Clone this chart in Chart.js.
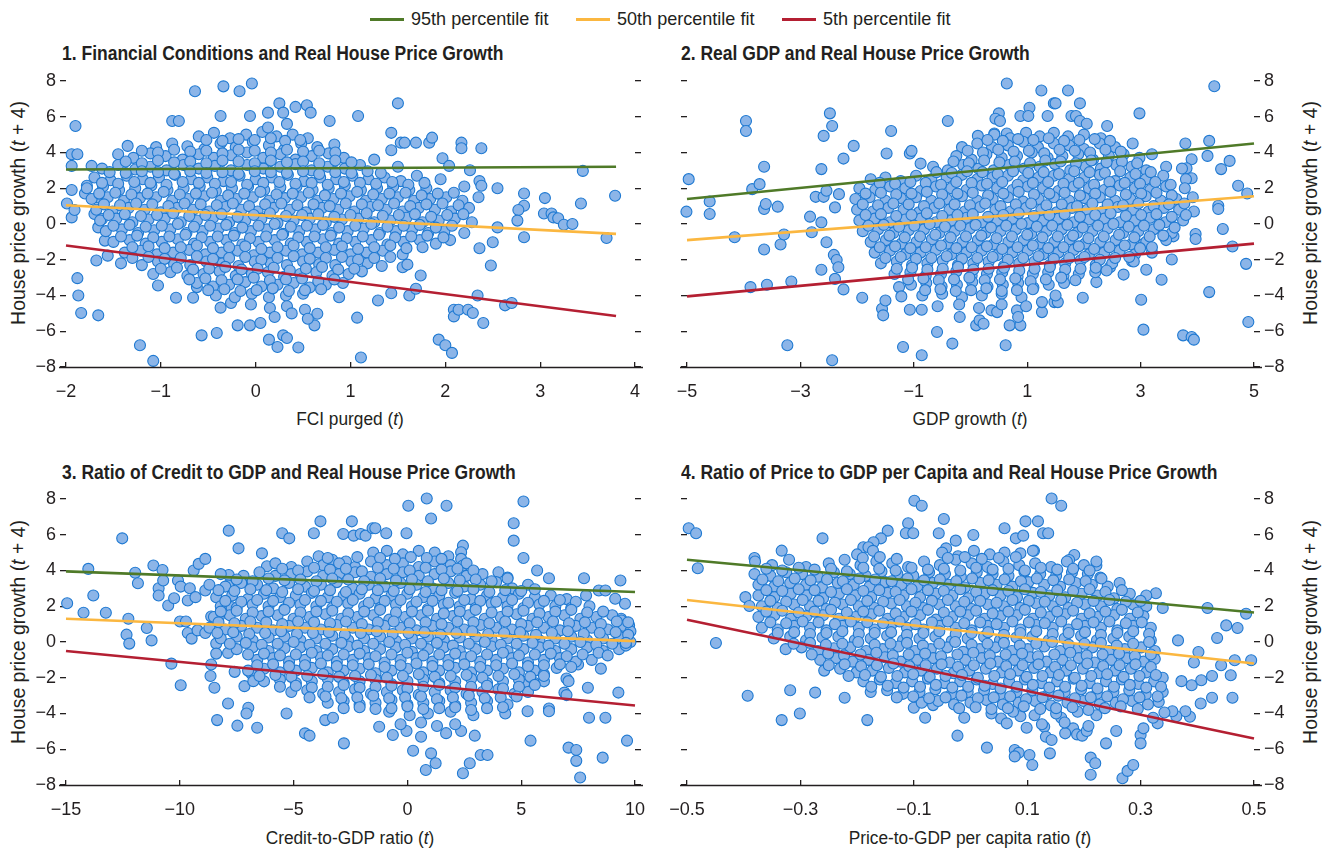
<!DOCTYPE html>
<html>
<head>
<meta charset="utf-8">
<script src="https://cdn.jsdelivr.net/npm/chart.js@4.4.1/dist/chart.umd.min.js"></script>
<style>
  body { margin: 0; background: #fff; }
  #page { position: relative; width: 1328px; height: 852px; background: #fff; overflow: hidden;
          font-family: "Liberation Sans", Arial, sans-serif; color: #231f20; }
  .abs { position: absolute; white-space: nowrap; line-height: 22px; }
  .ttl { font-weight: bold; font-size: 20px; transform-origin: 0 50%; transform: scaleX(0.875); }
  .axt { font-size: 18px; transform: translateX(-50%) scaleX(0.96); }
  .ylab { font-size: 20px; transform: translate(-50%, -50%) rotate(-90deg) scaleX(0.97); }
  .leg { font-size: 19px; transform-origin: 0 50%; transform: scaleX(0.95); }
  .sw { position: absolute; height: 3px; width: 34px; }
  .panel { position: absolute; width: 664px; height: 400px; }
</style>
</head>
<body>
<div id="page">
  <div class="sw" style="left:370px;top:18px;background:#4f7a28"></div>
  <div class="abs leg" style="left:411px;top:8px">95th percentile fit</div>
  <div class="sw" style="left:576px;top:18px;background:#fbb740"></div>
  <div class="abs leg" style="left:617px;top:8px">50th percentile fit</div>
  <div class="sw" style="left:782px;top:18px;background:#b41f32"></div>
  <div class="abs leg" style="left:823px;top:8px">5th percentile fit</div>

  <div class="abs ttl" style="left:62px;top:42px">1. Financial Conditions and Real House Price Growth</div>
  <div class="abs ttl" style="left:681px;top:42px">2. Real GDP and Real House Price Growth</div>
  <div class="abs ttl" style="left:62px;top:461px">3. Ratio of Credit to GDP and Real House Price Growth</div>
  <div class="abs ttl" style="left:681px;top:461px">4. Ratio of Price to GDP per Capita and Real House Price Growth</div>

  <div class="abs axt" style="left:350px;top:408px">FCI purged (<i>t</i>)</div>
  <div class="abs axt" style="left:970px;top:408px">GDP growth (<i>t</i>)</div>
  <div class="abs axt" style="left:350px;top:827px">Credit-to-GDP ratio (<i>t</i>)</div>
  <div class="abs axt" style="left:970px;top:827px">Price-to-GDP per capita ratio (<i>t</i>)</div>

  <div class="abs ylab" style="left:18px;top:213px">House price growth (<i>t</i> + 4)</div>
  <div class="abs ylab" style="left:1310px;top:213px">House price growth (<i>t</i> + 4)</div>
  <div class="abs ylab" style="left:18px;top:632px">House price growth (<i>t</i> + 4)</div>
  <div class="abs ylab" style="left:1310px;top:632px">House price growth (<i>t</i> + 4)</div>

  <div class="panel" style="left:0;top:60px"><canvas id="p1" width="664" height="400"></canvas></div>
  <div class="panel" style="left:664px;top:60px"><canvas id="p2" width="664" height="400"></canvas></div>
  <div class="panel" style="left:0;top:478px"><canvas id="p3" width="664" height="400"></canvas></div>
  <div class="panel" style="left:664px;top:478px"><canvas id="p4" width="664" height="400"></canvas></div>
</div>
<script>
// y axis is shared by all four panels
const yTicks = [-8, -6, -4, -2, 0, 2, 4, 6, 8];

// ---- panel 1: FCI purged ----
const fciFit95 = [[-2, 3.05], [3.8, 3.2]];
const fciFit50 = [[-2, 1.05], [3.8, -0.55]];
const fciFit5 = [[-2, -1.2], [3.8, -5.15]];
const fciSparse = [[-0.64,7.43],[-0.34,7.7],[-0.17,7.43],[-0.04,7.86],[1.08,6.04],[1.5,6.75],[-1.9,5.48],[-0.88,5.76],[-0.81,5.76],[-0.37,6.04],[-0.06,6.04],[0.25,6.75],[0.42,6.55],[0.54,6.64],[0.58,6.23],[0.13,6.23],[0.29,6.23],[0.33,5.6],[0.78,5.76],[1.43,5.1],[1.43,4.13],[1.53,4.55],[1.57,4.55],[1.69,4.55],[1.83,4.55],[1.86,4.83],[2.17,4.55],[2.17,4.24],[2.38,4.24],[-1.94,3.9],[-1.88,3.9],[-1.94,3.25],[-1.73,3.25],[-1.35,4.37],[1.97,3.68],[2.04,3.25],[2.26,3.01],[3.45,2.97],[2.55,2.0],[2.36,2.4],[2.38,2.14],[2.83,1.71],[2.83,1.02],[3.05,1.45],[3.43,1.15],[3.79,1.58],[2.77,0.78],[2.76,0.19],[3.04,0.59],[3.12,0.59],[3.14,0.37],[3.19,0.32],[3.25,-0.04],[3.34,0],[3.7,-0.78],[2.83,-0.74],[2.55,-0.19],[2.5,-1.02],[2.36,-1.36],[2.48,-2.32],[2.34,-4.0],[2.63,-4.55],[2.7,-4.42],[2.09,-4.8],[2.09,-5.17],[2.14,-4.8],[2.24,-4.8],[2.29,-4.98],[2.4,-5.54],[1.93,-6.47],[2.0,-6.78],[2.07,-7.21],[1.11,-7.47],[1.07,-5.24],[1.29,-4.28],[1.43,-3.87],[1.62,-4.0],[1.69,-3.62],[1.74,-2.88],[1.55,-2.42],[1.6,-2.27],[-1.08,-7.66],[-1.22,-6.78],[-0.57,-6.23],[-0.41,-6.1],[-0.19,-5.67],[-0.06,-5.67],[0.05,-5.54],[0.14,-6.47],[0.23,-6.88],[0.29,-6.23],[0.33,-6.38],[0.45,-6.91],[0.62,-5.67],[0.65,-5.02],[-1.84,-4.98],[-1.66,-5.11],[-1.88,-3.03],[-1.87,-4.0],[-1.68,-2.04],[-1.56,-1.77],[-1.59,-0.93],[-0.84,-4.13],[-0.66,-4.13],[-0.62,-3.53],[-1.03,-3.44],[-0.37,-4.68],[-0.26,-4.42],[-1.99,1.15],[-1.94,0.37],[-1.91,0.78],[-1.94,1.9],[-1.8,1.71],[-1.78,2.14],[-1.7,0.56],[-1.67,1.49],[-1.66,-0.19],[-1.62,0.28]];
const fciDense = [
[-0.6,4.9],[-0.44,5.1],[-0.27,4.8],[-0.1,5.0],[0.07,5.15],[0.22,4.9],[0.39,5.0],[0.55,4.8],[0.13,5.4],
[-1.05,4.3],[-0.88,4.5],[-0.72,4.35],[-0.54,4.2],[-0.37,4.5],[-0.21,4.3],[-0.03,4.6],[0.14,4.4],[0.3,4.15],[0.48,4.5],[0.65,4.3],[0.83,4.45],
[-1.45,3.9],[-1.29,3.7],[-1.11,3.95],[-0.95,3.8],[-0.77,3.6],[-0.6,3.9],[-0.44,3.7],[-0.26,3.85],[-0.09,4.0],[0.08,3.7],[0.26,3.9],[0.42,3.6],[0.59,3.8],[0.77,3.95],[0.93,3.7],[1.25,3.6],
[-1.62,3.1],[-1.45,3.3],[-1.27,3.05],[-1.11,3.2],[-0.94,3.0],[-0.76,3.3],[-0.6,3.1],[-0.43,3.25],[-0.26,3.0],[-0.09,3.3],[0.08,3.1],[0.26,3.2],[0.42,3.35],[0.59,3.0],[0.76,3.2],[0.94,3.1],[1.1,3.3],[1.5,3.2],
[-1.7,2.6],[-1.53,2.45],[-1.36,2.7],[-1.19,2.5],[-1.02,2.6],[-0.85,2.75],[-0.68,2.5],[-0.51,2.6],[-0.34,2.4],[-0.17,2.7],[0,2.5],[0.17,2.6],[0.34,2.75],[0.51,2.4],[0.68,2.6],[0.85,2.5],[1.02,2.7],[1.19,2.5],[1.36,2.6],[1.53,2.4],[1.7,2.7],[1.95,2.5],
[-1.78,2.0],[-1.61,2.1],[-1.44,1.9],[-1.27,2.0],[-1.1,2.15],[-0.93,1.9],[-0.76,2.0],[-0.59,2.1],[-0.42,1.85],[-0.25,2.0],[-0.08,2.1],[0.09,1.9],[0.26,2.05],[0.43,2.1],[0.6,1.9],[0.77,2.0],[0.94,2.15],[1.11,1.9],[1.28,2.0],[1.45,2.1],[1.62,1.9],[1.8,2.0],[2.2,2.1],
[-1.73,1.4],[-1.56,1.5],[-1.39,1.3],[-1.22,1.45],[-1.05,1.5],[-0.88,1.3],[-0.71,1.4],[-0.54,1.55],[-0.37,1.3],[-0.2,1.4],[-0.03,1.5],[0.14,1.3],[0.31,1.45],[0.48,1.5],[0.65,1.3],[0.82,1.4],[0.99,1.55],[1.16,1.3],[1.33,1.4],[1.5,1.5],[1.67,1.3],[1.84,1.4],[2.01,1.5],[2.18,1.3],[2.35,1.5],
[-1.68,0.8],[-1.51,0.7],[-1.34,0.9],[-1.17,0.8],[-1.0,0.65],[-0.83,0.9],[-0.66,0.8],[-0.49,0.7],[-0.32,0.95],[-0.15,0.8],[0.02,0.7],[0.19,0.9],[0.36,0.8],[0.53,0.65],[0.7,0.9],[0.87,0.8],[1.04,0.7],[1.21,0.95],[1.38,0.8],[1.55,0.7],[1.72,0.9],[1.89,0.8],[2.06,0.7],[2.25,0.9],
[-1.64,0.2],[-1.47,0.3],[-1.3,0.1],[-1.13,0.25],[-0.96,0.3],[-0.79,0.1],[-0.62,0.2],[-0.45,0.35],[-0.28,0.1],[-0.11,0.2],[0.06,0.3],[0.23,0.05],[0.4,0.2],[0.57,0.3],[0.74,0.1],[0.91,0.25],[1.08,0.3],[1.25,0.1],[1.42,0.2],[1.59,0.35],[1.76,0.1],[1.93,0.2],[2.1,0.3],[2.28,0.1],
[-1.58,-0.4],[-1.41,-0.3],[-1.24,-0.5],[-1.07,-0.35],[-0.9,-0.3],[-0.73,-0.5],[-0.56,-0.4],[-0.39,-0.25],[-0.22,-0.5],[-0.05,-0.4],[0.12,-0.3],[0.29,-0.55],[0.46,-0.4],[0.63,-0.3],[0.8,-0.5],[0.97,-0.4],[1.14,-0.25],[1.31,-0.5],[1.48,-0.4],[1.65,-0.3],[1.82,-0.5],[1.99,-0.4],[2.2,-0.5],
[-1.5,-1.0],[-1.33,-0.9],[-1.16,-1.1],[-0.99,-1.0],[-0.82,-0.85],[-0.65,-1.1],[-0.48,-1.0],[-0.31,-0.9],[-0.14,-1.15],[0.03,-1.0],[0.2,-0.9],[0.37,-1.1],[0.54,-1.0],[0.71,-0.85],[0.88,-1.1],[1.05,-1.0],[1.22,-0.9],[1.39,-1.15],[1.56,-1.0],[1.73,-0.9],[1.9,-1.1],[2.05,-0.9],
[-1.38,-1.6],[-1.21,-1.5],[-1.04,-1.7],[-0.87,-1.6],[-0.7,-1.45],[-0.53,-1.7],[-0.36,-1.6],[-0.19,-1.5],[-0.02,-1.75],[0.15,-1.6],[0.32,-1.5],[0.49,-1.7],[0.66,-1.6],[0.83,-1.45],[1.0,-1.7],[1.17,-1.6],[1.34,-1.5],[1.55,-1.7],
[-1.42,-2.2],[-1.2,-2.3],[-1.03,-2.1],[-0.86,-2.25],[-0.69,-2.3],[-0.52,-2.1],[-0.35,-2.2],[-0.18,-2.35],[-0.01,-2.1],[0.16,-2.2],[0.33,-2.3],[0.5,-2.1],[0.67,-2.25],[0.84,-2.3],[1.01,-2.1],[1.18,-2.2],[1.33,-2.35],
[-1.08,-2.8],[-0.9,-2.7],[-0.72,-2.9],[-0.55,-2.8],[-0.38,-2.65],[-0.21,-2.9],[-0.04,-2.8],[0.13,-2.7],[0.3,-2.95],[0.47,-2.8],[0.64,-2.7],[0.81,-2.9],[0.98,-2.8],[1.12,-2.65],
[-0.62,-3.3],[-0.45,-3.5],[-0.28,-3.4],[-0.11,-3.25],[0.06,-3.5],[0.23,-3.4],[0.4,-3.3],[0.57,-3.55],[0.74,-3.4],[0.92,-3.3],
[-0.42,-4.0],[-0.22,-4.1],[-0.04,-3.9],[0.14,-4.1],[0.32,-4.0],[0.5,-3.9],[0.88,-4.1],
[-0.05,-4.5],[0.15,-4.7],[0.33,-4.6],[0.52,-4.8],
[0.2,-5.2],[0.38,-5.0],[0.55,-5.3]];
const fciFill = [
[-0.52,4.7],[-0.35,4.65],[-0.18,4.75],[-0.01,4.7],[0.16,4.8],[0.31,4.65],[0.47,4.7],
[-1.2,4.1],[-1.03,4.0],[-0.86,4.15],[-0.69,4.05],[-0.52,4.1],[-0.35,3.95],[-0.18,4.15],[-0.01,4.1],[0.16,4.0],[0.33,4.15],[0.5,4.05],[0.67,4.1],[0.84,4.0],
[-1.37,3.5],[-1.2,3.4],[-1.03,3.55],[-0.86,3.45],[-0.69,3.5],[-0.52,3.4],[-0.35,3.55],[-0.18,3.5],[-0.01,3.4],[0.16,3.55],[0.33,3.45],[0.5,3.5],[0.67,3.4],[0.84,3.55],[1.01,3.45],
[-1.54,2.9],[-1.37,2.85],[-1.2,2.95],[-1.03,2.9],[-0.86,2.8],[-0.69,2.95],[-0.52,2.85],[-0.35,2.9],[-0.18,2.8],[-0.01,2.95],[0.16,2.9],[0.33,2.85],[0.5,2.95],[0.67,2.8],[0.84,2.9],[1.01,2.85],[1.18,2.95],[1.32,2.85],
[-1.62,2.3],[-1.45,2.25],[-1.28,2.35],[-1.11,2.3],[-0.94,2.2],[-0.77,2.35],[-0.6,2.3],[-0.43,2.25],[-0.26,2.35],[-0.09,2.2],[0.08,2.3],[0.25,2.35],[0.42,2.25],[0.59,2.3],[0.76,2.2],[0.93,2.35],[1.1,2.3],[1.27,2.25],[1.44,2.35],[1.61,2.2],[1.78,2.3],
[-1.65,1.7],[-1.48,1.75],[-1.31,1.65],[-1.14,1.7],[-0.97,1.8],[-0.8,1.65],[-0.63,1.7],[-0.46,1.75],[-0.29,1.6],[-0.12,1.7],[0.05,1.8],[0.22,1.65],[0.39,1.7],[0.56,1.75],[0.73,1.6],[0.9,1.7],[1.07,1.8],[1.24,1.65],[1.41,1.7],[1.58,1.75],[1.75,1.6],[1.92,1.7],[2.09,1.75],
[-1.6,1.1],[-1.43,1.05],[-1.26,1.15],[-1.09,1.1],[-0.92,1.0],[-0.75,1.15],[-0.58,1.1],[-0.41,1.05],[-0.24,1.15],[-0.07,1.0],[0.1,1.1],[0.27,1.15],[0.44,1.05],[0.61,1.1],[0.78,1.0],[0.95,1.15],[1.12,1.1],[1.29,1.05],[1.46,1.15],[1.63,1.0],[1.8,1.1],[1.97,1.15],[2.14,1.05],
[-1.55,0.5],[-1.38,0.55],[-1.21,0.45],[-1.04,0.5],[-0.87,0.6],[-0.7,0.45],[-0.53,0.5],[-0.36,0.55],[-0.19,0.4],[-0.02,0.5],[0.15,0.6],[0.32,0.45],[0.49,0.5],[0.66,0.55],[0.83,0.4],[1.0,0.5],[1.17,0.6],[1.34,0.45],[1.51,0.5],[1.68,0.55],[1.85,0.4],[2.02,0.5],[2.19,0.55],
[-1.5,-0.1],[-1.33,-0.05],[-1.16,-0.15],[-0.99,-0.1],[-0.82,0.0],[-0.65,-0.15],[-0.48,-0.1],[-0.31,-0.05],[-0.14,-0.2],[0.03,-0.1],[0.2,0.0],[0.37,-0.15],[0.54,-0.1],[0.71,-0.05],[0.88,-0.2],[1.05,-0.1],[1.22,0.0],[1.39,-0.15],[1.56,-0.1],[1.73,-0.05],[1.9,-0.2],[2.07,-0.1],
[-1.42,-0.7],[-1.25,-0.65],[-1.08,-0.75],[-0.91,-0.7],[-0.74,-0.6],[-0.57,-0.75],[-0.4,-0.7],[-0.23,-0.65],[-0.06,-0.8],[0.11,-0.7],[0.28,-0.6],[0.45,-0.75],[0.62,-0.7],[0.79,-0.65],[0.96,-0.8],[1.13,-0.7],[1.3,-0.6],[1.47,-0.75],[1.64,-0.7],[1.81,-0.65],[1.98,-0.75],
[-1.3,-1.3],[-1.13,-1.25],[-0.96,-1.35],[-0.79,-1.3],[-0.62,-1.2],[-0.45,-1.35],[-0.28,-1.3],[-0.11,-1.25],[0.06,-1.4],[0.23,-1.3],[0.4,-1.2],[0.57,-1.35],[0.74,-1.3],[0.91,-1.25],[1.08,-1.4],[1.25,-1.3],[1.42,-1.2],[1.59,-1.35],[1.76,-1.3],
[-1.3,-1.9],[-1.13,-1.85],[-0.96,-1.95],[-0.79,-1.9],[-0.62,-1.8],[-0.45,-1.95],[-0.28,-1.9],[-0.11,-1.85],[0.06,-2.0],[0.23,-1.9],[0.4,-1.8],[0.57,-1.95],[0.74,-1.9],[0.91,-1.85],[1.08,-2.0],[1.25,-1.9],[1.42,-1.85],
[-1.0,-2.5],[-0.83,-2.45],[-0.66,-2.55],[-0.49,-2.5],[-0.32,-2.4],[-0.15,-2.55],[0.02,-2.5],[0.19,-2.45],[0.36,-2.6],[0.53,-2.5],[0.7,-2.4],[0.87,-2.55],[1.04,-2.5],
[-0.7,-3.1],[-0.53,-3.05],[-0.36,-3.15],[-0.19,-3.1],[-0.02,-3.0],[0.15,-3.15],[0.32,-3.1],[0.49,-3.05],[0.66,-3.2],[0.83,-3.1],
[-0.5,-3.7],[-0.33,-3.65],[-0.16,-3.75],[0.01,-3.7],[0.18,-3.6],[0.35,-3.75],[0.52,-3.7],[0.69,-3.65]];

// ---- panel 2: GDP growth ----
const gdpFit95 = [[-5, 1.4], [5, 4.5]];
const gdpFit50 = [[-5, -0.9], [5, 1.55]];
const gdpFit5 = [[-5, -4.05], [5, -1.1]];
const gdpSparse = [[0.64,7.86],[1.25,7.47],[1.72,7.47],[4.3,7.71],[1.47,6.75],[1.5,6.75],[1.93,6.75],[1.04,6.5],[0.88,6.04],[1.02,6.04],[1.36,6.04],[1.78,6.04],[1.86,6.04],[0.5,6.19],[0.44,5.89],[0.52,5.76],[2.98,6.19],[1.93,5.76],[2.05,5.61],[2.41,5.48],[-0.4,5.76],[-3.96,5.76],[-3.96,5.2],[-2.48,6.19],[-2.44,5.48],[-2.59,4.93],[-1.4,5.2],[0.13,4.93],[0.42,5.06],[0.64,5.06],[-2.06,4.37],[-1.48,3.94],[-1.07,3.94],[-1.04,4.09],[-2.24,3.66],[-0.88,3.38],[-3.64,3.2],[-2.63,3.07],[3.79,4.5],[4.21,4.65],[4.18,3.81],[4.57,3.53],[4.42,3.07],[3.9,3.62],[3.81,3.12],[3.9,2.56],[4.72,2.14],[4.88,1.71],[4.37,1.02],[4.37,0.84],[4.45,-0.28],[4.62,-1.26],[4.86,-2.23],[4.21,-3.81],[4.9,-5.48],[3.75,-6.23],[3.9,-6.32],[3.94,-6.47],[3.05,-5.91],[3.01,-4.24],[3.37,-3.12],[3.1,-2.56],[3.55,-1.99],[-5.01,0.69],[-4.97,2.51],[-4.6,1.26],[-4.6,0.56],[-4.16,-0.74],[-3.85,1.95],[-3.72,2.23],[-3.64,0.84],[-3.61,1.12],[-3.4,0.97],[-3.64,-1.43],[-3.35,-1.15],[-3.29,-0.59],[-3.88,-3.53],[-3.59,-3.4],[-3.16,-3.22],[-3.23,-6.78],[-2.44,-7.62],[-2.83,0.41],[-2.8,-0.46],[-2.73,1.52],[-2.59,1.52],[-2.63,0.09],[-2.54,-1.02],[-2.63,-2.56],[-2.54,1.86],[-2.39,0.93],[-2.32,1.67],[-2.41,-1.73],[-2.36,-2.01],[-2.33,-2.42],[-2.39,-3.07],[-2.24,-3.66],[-1.91,-4.13],[-1.56,-4.74],[-1.54,-5.11],[-1.5,-4.28],[-1.26,-3.53],[-1.22,-4.05],[-1.07,-4.8],[-0.86,-4.8],[-0.59,-6.04],[-1.19,-6.88],[-0.86,-7.34],[-0.32,-6.69],[-0.19,-5.2],[0.1,-5.67],[0.16,-5.39],[0.23,-5.58],[0.37,-4.83],[0.47,-4.93],[0.62,-6.78],[0.69,-5.67],[0.88,-5.67],[0.82,-4.83],[0.84,-5.2],[1.26,-4.93],[1.26,-4.37],[1.48,-4.37],[1.54,-4.37],[1.98,-4.13],[2.22,-3.25],[2.7,-2.83],[2.46,-2.42],[2.85,-2.08],[3.05,-1.12],[3.58,-0.69],[3.97,-0.56],[3.97,-0.84]];
const gdpDense = [
[0.42,5.0],[0.7,4.8],[0.98,5.1],[1.22,4.9],[1.47,5.1],[1.72,4.9],[2.0,5.0],[2.3,4.8],
[-0.15,4.3],[0.12,4.5],[0.38,4.3],[0.66,4.4],[0.93,4.6],[1.19,4.3],[1.47,4.5],[1.74,4.4],[2.0,4.2],[2.28,4.5],[2.55,4.3],[2.86,4.5],
[-0.25,3.8],[0.02,3.6],[0.28,3.9],[0.55,3.7],[0.82,3.8],[1.08,4.0],[1.36,3.7],[1.62,3.8],[1.9,3.9],[2.16,3.6],[2.44,3.8],[2.7,3.9],[2.98,3.7],[3.2,3.9],
[-0.66,3.2],[-0.4,3.0],[-0.13,3.3],[0.14,3.1],[0.41,3.0],[0.68,3.3],[0.95,3.1],[1.22,3.2],[1.49,3.35],[1.76,3.0],[2.03,3.2],[2.3,3.1],[2.57,3.3],[2.84,3.2],[3.1,3.0],[3.45,3.2],[3.73,3.1],
[-1.76,2.5],[-1.5,2.6],[-1.23,2.4],[-0.96,2.7],[-0.69,2.5],[-0.42,2.6],[-0.15,2.75],[0.12,2.5],[0.39,2.6],[0.66,2.7],[0.93,2.45],[1.2,2.6],[1.47,2.7],[1.74,2.5],[2.01,2.6],[2.28,2.75],[2.55,2.4],[2.82,2.6],[3.09,2.5],[3.4,2.7],[3.8,2.5],
[-1.96,2.0],[-1.68,1.9],[-1.42,2.1],[-1.15,2.0],[-0.88,1.85],[-0.61,2.1],[-0.34,2.0],[-0.07,1.9],[0.2,2.15],[0.47,2.0],[0.74,1.9],[1.01,2.1],[1.28,2.0],[1.55,1.85],[1.82,2.1],[2.09,2.0],[2.36,1.9],[2.63,2.15],[2.9,2.0],[3.17,1.9],[3.45,2.1],[3.78,2.0],
[-2.03,1.4],[-1.78,1.5],[-1.5,1.3],[-1.23,1.45],[-0.96,1.5],[-0.69,1.3],[-0.42,1.4],[-0.15,1.55],[0.12,1.3],[0.39,1.4],[0.66,1.5],[0.93,1.25],[1.2,1.4],[1.47,1.5],[1.74,1.3],[2.01,1.45],[2.28,1.5],[2.55,1.3],[2.82,1.4],[3.09,1.55],[3.36,1.3],[3.63,1.4],[3.92,1.5],
[-2.0,0.8],[-1.72,0.7],[-1.45,0.9],[-1.18,0.8],[-0.91,0.65],[-0.64,0.9],[-0.37,0.8],[-0.1,0.7],[0.17,0.95],[0.44,0.8],[0.71,0.7],[0.98,0.9],[1.25,0.8],[1.52,0.65],[1.79,0.9],[2.06,0.8],[2.33,0.7],[2.6,0.95],[2.87,0.8],[3.14,0.7],[3.41,0.9],[3.68,0.8],[3.94,0.7],
[-1.96,0.2],[-1.69,0.3],[-1.42,0.1],[-1.15,0.25],[-0.88,0.3],[-0.61,0.1],[-0.34,0.2],[-0.07,0.35],[0.2,0.1],[0.47,0.2],[0.74,0.3],[1.01,0.05],[1.28,0.2],[1.55,0.3],[1.82,0.1],[2.09,0.25],[2.36,0.3],[2.63,0.1],[2.9,0.2],[3.17,0.35],[3.44,0.1],[3.75,0.2],
[-1.9,-0.4],[-1.63,-0.3],[-1.36,-0.5],[-1.09,-0.35],[-0.82,-0.3],[-0.55,-0.5],[-0.28,-0.4],[-0.01,-0.25],[0.26,-0.5],[0.53,-0.4],[0.8,-0.3],[1.07,-0.55],[1.34,-0.4],[1.61,-0.3],[1.88,-0.5],[2.15,-0.4],[2.42,-0.25],[2.69,-0.5],[2.96,-0.4],[3.23,-0.3],[3.55,-0.5],
[-1.76,-1.0],[-1.49,-0.9],[-1.22,-1.1],[-0.95,-1.0],[-0.68,-0.85],[-0.41,-1.1],[-0.14,-1.0],[0.13,-0.9],[0.4,-1.15],[0.67,-1.0],[0.94,-0.9],[1.21,-1.1],[1.48,-1.0],[1.75,-0.85],[2.02,-1.1],[2.29,-1.0],[2.56,-0.9],[2.83,-1.15],[3.1,-1.0],[3.45,-0.9],
[-1.69,-1.6],[-1.42,-1.5],[-1.15,-1.7],[-0.88,-1.6],[-0.61,-1.45],[-0.34,-1.7],[-0.07,-1.6],[0.2,-1.5],[0.47,-1.75],[0.74,-1.6],[1.01,-1.5],[1.28,-1.7],[1.55,-1.6],[1.82,-1.45],[2.09,-1.7],[2.36,-1.6],[2.63,-1.5],[2.9,-1.7],[3.2,-1.6],
[-1.58,-2.2],[-1.3,-2.1],[-1.03,-2.3],[-0.76,-2.2],[-0.49,-2.05],[-0.22,-2.3],[0.05,-2.2],[0.32,-2.1],[0.59,-2.35],[0.86,-2.2],[1.13,-2.1],[1.4,-2.3],[1.67,-2.2],[1.94,-2.05],[2.21,-2.3],[2.5,-2.2],[2.88,-2.1],
[-1.34,-2.8],[-1.06,-2.7],[-0.79,-2.9],[-0.52,-2.8],[-0.25,-2.65],[0.02,-2.9],[0.29,-2.8],[0.56,-2.7],[0.83,-2.95],[1.1,-2.8],[1.37,-2.7],[1.64,-2.9],[1.91,-2.8],[2.2,-2.7],
[-1.05,-3.4],[-0.78,-3.3],[-0.51,-3.5],[-0.24,-3.4],[0.03,-3.25],[0.3,-3.5],[0.57,-3.4],[0.84,-3.3],[1.11,-3.55],[1.38,-3.4],[1.65,-3.3],
[-0.85,-4.0],[-0.5,-3.9],[-0.15,-4.1],[0.2,-4.0],[0.55,-3.9],[0.9,-4.1],[1.5,-4.0],
[-0.58,-4.6],[-0.2,-4.5],[0.15,-4.7],[0.55,-4.5],[0.98,-4.6]];
const gdpFill = [
[0.3,4.7],[0.57,4.65],[0.84,4.75],[1.11,4.7],[1.38,4.8],[1.65,4.65],[1.92,4.7],[2.19,4.75],[2.46,4.65],
[-0.05,4.1],[0.22,4.0],[0.49,4.15],[0.76,4.05],[1.03,4.1],[1.3,3.95],[1.57,4.15],[1.84,4.1],[2.11,4.0],[2.38,4.15],[2.65,4.05],
[-0.3,3.5],[-0.03,3.4],[0.24,3.55],[0.51,3.45],[0.78,3.5],[1.05,3.4],[1.32,3.55],[1.59,3.5],[1.86,3.4],[2.13,3.55],[2.4,3.45],[2.67,3.5],[2.94,3.4],
[-0.6,2.9],[-0.33,2.85],[-0.06,2.95],[0.21,2.9],[0.48,2.8],[0.75,2.95],[1.02,2.85],[1.29,2.9],[1.56,2.8],[1.83,2.95],[2.1,2.9],[2.37,2.85],[2.64,2.95],[2.91,2.8],[3.18,2.9],
[-1.6,2.3],[-1.33,2.25],[-1.06,2.35],[-0.79,2.3],[-0.52,2.2],[-0.25,2.35],[0.02,2.3],[0.29,2.25],[0.56,2.35],[0.83,2.2],[1.1,2.3],[1.37,2.35],[1.64,2.25],[1.91,2.3],[2.18,2.2],[2.45,2.35],[2.72,2.3],[2.99,2.25],[3.26,2.35],[3.53,2.2],
[-1.85,1.7],[-1.58,1.75],[-1.31,1.65],[-1.04,1.7],[-0.77,1.8],[-0.5,1.65],[-0.23,1.7],[0.04,1.75],[0.31,1.6],[0.58,1.7],[0.85,1.8],[1.12,1.65],[1.39,1.7],[1.66,1.75],[1.93,1.6],[2.2,1.7],[2.47,1.8],[2.74,1.65],[3.01,1.7],[3.28,1.75],[3.55,1.6],
[-1.9,1.1],[-1.63,1.05],[-1.36,1.15],[-1.09,1.1],[-0.82,1.0],[-0.55,1.15],[-0.28,1.1],[-0.01,1.05],[0.26,1.15],[0.53,1.0],[0.8,1.1],[1.07,1.15],[1.34,1.05],[1.61,1.1],[1.88,1.0],[2.15,1.15],[2.42,1.1],[2.69,1.05],[2.96,1.15],[3.23,1.0],[3.5,1.1],[3.77,1.15],
[-1.85,0.5],[-1.58,0.55],[-1.31,0.45],[-1.04,0.5],[-0.77,0.6],[-0.5,0.45],[-0.23,0.5],[0.04,0.55],[0.31,0.4],[0.58,0.5],[0.85,0.6],[1.12,0.45],[1.39,0.5],[1.66,0.55],[1.93,0.4],[2.2,0.5],[2.47,0.6],[2.74,0.45],[3.01,0.5],[3.28,0.55],[3.55,0.4],[3.8,0.5],
[-1.8,-0.1],[-1.53,-0.05],[-1.26,-0.15],[-0.99,-0.1],[-0.72,0.0],[-0.45,-0.15],[-0.18,-0.1],[0.09,-0.05],[0.36,-0.2],[0.63,-0.1],[0.9,0.0],[1.17,-0.15],[1.44,-0.1],[1.71,-0.05],[1.98,-0.2],[2.25,-0.1],[2.52,0.0],[2.79,-0.15],[3.06,-0.1],[3.33,-0.05],[3.6,-0.2],
[-1.7,-0.7],[-1.43,-0.65],[-1.16,-0.75],[-0.89,-0.7],[-0.62,-0.6],[-0.35,-0.75],[-0.08,-0.7],[0.19,-0.65],[0.46,-0.8],[0.73,-0.7],[1.0,-0.6],[1.27,-0.75],[1.54,-0.7],[1.81,-0.65],[2.08,-0.8],[2.35,-0.7],[2.62,-0.6],[2.89,-0.75],[3.16,-0.7],[3.4,-0.65],
[-1.6,-1.3],[-1.33,-1.25],[-1.06,-1.35],[-0.79,-1.3],[-0.52,-1.2],[-0.25,-1.35],[0.02,-1.3],[0.29,-1.25],[0.56,-1.4],[0.83,-1.3],[1.1,-1.2],[1.37,-1.35],[1.64,-1.3],[1.91,-1.25],[2.18,-1.4],[2.45,-1.3],[2.72,-1.2],[2.99,-1.35],[3.2,-1.3],
[-1.5,-1.9],[-1.23,-1.85],[-0.96,-1.95],[-0.69,-1.9],[-0.42,-1.8],[-0.15,-1.95],[0.12,-1.9],[0.39,-1.85],[0.66,-2.0],[0.93,-1.9],[1.2,-1.8],[1.47,-1.95],[1.74,-1.9],[2.01,-1.85],[2.28,-2.0],[2.55,-1.9],[2.8,-1.85],
[-1.3,-2.5],[-1.03,-2.45],[-0.76,-2.55],[-0.49,-2.5],[-0.22,-2.4],[0.05,-2.55],[0.32,-2.5],[0.59,-2.45],[0.86,-2.6],[1.13,-2.5],[1.4,-2.4],[1.67,-2.55],[1.94,-2.5],[2.21,-2.45],[2.4,-2.6],
[-1.1,-3.1],[-0.83,-3.05],[-0.56,-3.15],[-0.29,-3.1],[-0.02,-3.0],[0.25,-3.15],[0.52,-3.1],[0.79,-3.05],[1.06,-3.2],[1.33,-3.1],[1.6,-3.0],[1.85,-3.15],
[-0.8,-3.7],[-0.53,-3.65],[-0.26,-3.75],[0.01,-3.7],[0.28,-3.6],[0.55,-3.75],[0.82,-3.7],[1.1,-3.65]];

// ---- panel 3: credit-to-GDP ratio ----
const crdFit95 = [[-15, 3.95], [10, 2.8]];
const crdFit50 = [[-15, 1.3], [10, 0.05]];
const crdFit5 = [[-15, -0.5], [10, -3.55]];
const crdSparse = [[-14.95,2.17],[-14.02,4.09],[-13.8,2.6],[-14.23,1.64],[-13.25,1.64],[-12.53,5.8],[-12.34,0.41],[-12.22,-0.09],[-12.26,1.3],[-11.96,3.87],[-11.84,3.29],[-11.45,0.78],[-11.24,0.09],[-11.16,4.28],[-10.76,4.03],[-10.93,3.01],[-10.93,2.6],[-10.73,3.44],[-10.51,2.04],[-10.25,2.45],[-10.37,-1.21],[-10.08,3.44],[-9.96,3.1],[-9.99,1.15],[-9.73,1.15],[-9.96,-2.42],[-9.65,2.32],[-9.56,3.01],[-9.39,4.0],[-9.17,4.37],[-8.88,4.65],[-9.31,2.51],[-8.88,2.88],[-9.65,0.5],[-9.48,0.19],[-9.22,0.65],[-8.88,0.5],[-8.62,1.43],[-8.28,1.43],[-7.85,6.23],[-7.42,5.24],[-7.85,3.75],[-7.88,3.16],[-7.73,1.95],[-8.4,-0.09],[-8.4,-0.65],[-7.88,-0.61],[-8.62,-1.26],[-8.65,-1.9],[-8.48,-2.56],[-7.88,-3.44],[-8.36,-4.37],[-7.47,-4.68],[-6.99,-3.68],[-7.07,-4.0],[-6.6,-4.8],[-7.16,-2.47],[-7.59,-1.67],[-6.85,-1.77],[-6.77,-2.19],[-6.39,4.96],[-6.17,4.24],[-5.5,6.08],[-5.19,5.8],[-5.31,-4.0],[-4.5,-5.11],[-4.3,-5.24],[-2.79,-5.67],[-3.61,-4.37],[-3.27,-4.24],[-4.11,6.08],[-3.82,6.75],[-2.44,6.75],[-2.82,6.04],[-2.36,5.95],[-2.05,6.04],[-1.84,5.95],[-1.53,6.36],[-1.41,6.36],[-0.93,6.08],[-0.04,6.08],[0.04,7.62],[0.85,8.03],[1.04,6.91],[1.72,7.62],[5.1,7.86],[4.67,6.64],[4.67,5.67],[5.1,4.7],[5.7,4.0],[6.22,3.57],[7.76,3.57],[9.36,3.44],[2.44,5.39],[2.36,5.02],[2.36,4.65],[2.44,4.28],[-1.24,-4.74],[-0.64,-5.2],[-0.04,-4.98],[0.25,-6.08],[0.81,-7.16],[1.04,-6.23],[1.24,-6.78],[2.44,-7.34],[2.74,-6.78],[3.22,-6.32],[3.52,-6.32],[2.36,-4.98],[2.96,-5.24],[5.41,-5.52],[7.08,-5.91],[7.42,-6.04],[7.42,-6.65],[7.59,-7.58],[8.58,-6.47],[9.65,-5.52],[7.98,-4.24],[8.7,-4.24],[7.93,-2.56],[9.27,-2.83],[8.5,-1.49],[7.5,-1.26],[6.99,-2.04],[7.08,-2.19],[6.56,-1.45],[6.22,-3.72],[6.22,-3.87],[5.28,-3.87],[5.19,-2.23],[6.9,-2.83],[6.99,-2.97],[9.74,0.93],[9.39,1.3],[9.56,2.14],[9.13,2.42],[8.41,2.88],[8.7,2.88],[7.85,2.6]];
const crdDense = [
[-3.9,4.8],[-3.3,4.6],[-2.7,4.5],[-1.5,5.0],[-0.9,5.1],[-0.2,4.9],[0.5,5.1],[1.2,5.0],[1.8,4.8],
[-5.8,4.4],[-5.1,4.2],[-4.4,4.5],[-3.7,4.3],[-3.0,4.4],[-2.3,4.2],[-1.6,4.5],[-0.9,4.3],[-0.2,4.4],[0.5,4.2],[1.2,4.5],[1.9,4.3],[2.6,4.4],
[-8.2,3.8],[-7.2,3.7],[-6.5,3.9],[-5.8,3.7],[-5.1,3.8],[-4.4,3.95],[-3.7,3.7],[-3.0,3.8],[-2.3,3.9],[-1.6,3.65],[-0.9,3.8],[-0.2,3.9],[0.5,3.7],[1.2,3.8],[1.9,3.95],[2.6,3.7],[3.3,3.8],[4.0,3.9],[4.4,3.6],
[-8.7,3.2],[-8.0,3.1],[-7.3,3.3],[-6.6,3.2],[-5.9,3.0],[-5.2,3.3],[-4.5,3.1],[-3.8,3.2],[-3.1,3.35],[-2.4,3.0],[-1.7,3.2],[-1.0,3.1],[-0.3,3.3],[0.4,3.2],[1.1,3.0],[1.8,3.3],[2.5,3.1],[3.2,3.2],[3.9,3.35],[4.6,3.0],[5.3,3.2],
[-8.4,2.5],[-7.7,2.6],[-7.0,2.4],[-6.3,2.7],[-5.6,2.5],[-4.9,2.6],[-4.2,2.75],[-3.5,2.5],[-2.8,2.6],[-2.1,2.7],[-1.4,2.45],[-0.7,2.6],[0.0,2.7],[0.7,2.5],[1.4,2.6],[2.1,2.75],[2.8,2.4],[3.5,2.6],[4.2,2.5],[4.9,2.7],[5.6,2.5],[6.3,2.6],[7.0,2.4],
[-8.2,2.0],[-7.5,1.9],[-6.8,2.1],[-6.1,2.0],[-5.4,1.85],[-4.7,2.1],[-4.0,2.0],[-3.3,1.9],[-2.6,2.15],[-1.9,2.0],[-1.2,1.9],[-0.5,2.1],[0.2,2.0],[0.9,1.85],[1.6,2.1],[2.3,2.0],[3.0,1.9],[3.7,2.15],[4.4,2.0],[5.1,1.9],[5.8,2.1],[6.5,2.0],[7.2,1.9],[8.0,2.0],
[-8.5,1.4],[-7.8,1.5],[-7.1,1.3],[-6.4,1.45],[-5.7,1.5],[-5.0,1.3],[-4.3,1.4],[-3.6,1.55],[-2.9,1.3],[-2.2,1.4],[-1.5,1.5],[-0.8,1.25],[-0.1,1.4],[0.6,1.5],[1.3,1.3],[2.0,1.45],[2.7,1.5],[3.4,1.3],[4.1,1.4],[4.8,1.55],[5.5,1.3],[6.2,1.4],[6.9,1.5],[7.6,1.3],[8.3,1.4],[9.0,1.5],[9.4,1.2],
[-8.7,0.8],[-8.0,0.7],[-7.3,0.9],[-6.6,0.8],[-5.9,0.65],[-5.2,0.9],[-4.5,0.8],[-3.8,0.7],[-3.1,0.95],[-2.4,0.8],[-1.7,0.7],[-1.0,0.9],[-0.3,0.8],[0.4,0.65],[1.1,0.9],[1.8,0.8],[2.5,0.7],[3.2,0.95],[3.9,0.8],[4.6,0.7],[5.3,0.9],[6.0,0.8],[6.7,0.65],[7.4,0.9],[8.1,0.8],[8.8,0.7],[9.5,0.9],[9.8,0.6],
[-8.2,0.2],[-7.5,0.3],[-6.8,0.1],[-6.1,0.25],[-5.4,0.3],[-4.7,0.1],[-4.0,0.2],[-3.3,0.35],[-2.6,0.1],[-1.9,0.2],[-1.2,0.3],[-0.5,0.05],[0.2,0.2],[0.9,0.3],[1.6,0.1],[2.3,0.25],[3.0,0.3],[3.7,0.1],[4.4,0.2],[5.1,0.35],[5.8,0.1],[6.5,0.2],[7.2,0.3],[7.9,0.1],[8.6,0.2],[9.3,0.3],[9.8,0.0],
[-7.5,-0.4],[-6.8,-0.3],[-6.1,-0.5],[-5.4,-0.35],[-4.7,-0.3],[-4.0,-0.5],[-3.3,-0.4],[-2.6,-0.25],[-1.9,-0.5],[-1.2,-0.4],[-0.5,-0.3],[0.2,-0.55],[0.9,-0.4],[1.6,-0.3],[2.3,-0.5],[3.0,-0.4],[3.7,-0.25],[4.4,-0.5],[5.1,-0.4],[5.8,-0.3],[6.5,-0.5],[7.2,-0.4],[7.9,-0.3],[8.6,-0.5],[9.3,-0.4],[9.6,-0.2],
[-6.6,-1.0],[-5.9,-0.9],[-5.2,-1.1],[-4.5,-1.0],[-3.8,-0.85],[-3.1,-1.1],[-2.4,-1.0],[-1.7,-0.9],[-1.0,-1.15],[-0.3,-1.0],[0.4,-0.9],[1.1,-1.1],[1.8,-1.0],[2.5,-0.85],[3.2,-1.1],[3.9,-1.0],[4.6,-0.9],[5.3,-1.15],[6.0,-1.0],[6.7,-0.9],[7.4,-1.1],[8.1,-1.0],
[-7.0,-1.6],[-6.3,-1.5],[-5.6,-1.7],[-4.9,-1.6],[-4.2,-1.45],[-3.5,-1.7],[-2.8,-1.6],[-2.1,-1.5],[-1.4,-1.75],[-0.7,-1.6],[0.0,-1.5],[0.7,-1.7],[1.4,-1.6],[2.1,-1.45],[2.8,-1.7],[3.5,-1.6],[4.2,-1.5],[4.9,-1.7],[5.6,-1.6],[6.0,-1.8],
[-6.3,-2.2],[-5.6,-2.1],[-4.9,-2.3],[-4.2,-2.2],[-3.5,-2.05],[-2.8,-2.3],[-2.1,-2.2],[-1.4,-2.1],[-0.7,-2.35],[0.0,-2.2],[0.7,-2.1],[1.4,-2.3],[2.1,-2.2],[2.8,-2.05],[3.5,-2.3],[4.2,-2.2],[4.9,-2.1],[5.6,-2.3],[6.0,-2.2],
[-5.1,-2.8],[-4.4,-2.7],[-3.7,-2.9],[-3.0,-2.8],[-2.3,-2.65],[-1.6,-2.9],[-0.9,-2.8],[-0.2,-2.7],[0.5,-2.95],[1.2,-2.8],[1.9,-2.7],[2.6,-2.9],[3.3,-2.8],[4.0,-2.65],[4.7,-2.9],[5.3,-2.8],
[-3.5,-3.4],[-2.8,-3.3],[-2.1,-3.5],[-1.4,-3.4],[-0.7,-3.25],[0.0,-3.5],[0.7,-3.4],[1.4,-3.3],[2.1,-3.55],[2.8,-3.4],[3.5,-3.3],[4.4,-3.5],
[-0.8,-3.9],[0.1,-4.1],[0.9,-4.0],[1.9,-3.9],[2.9,-4.1],[4.3,-4.0],
[-0.3,-4.6],[0.6,-4.5],[1.3,-4.7],[2.1,-4.6],
[0.6,-5.3],[1.7,-5.1]];
const crdFill = [
[-3.5,4.7],[-2.2,4.75],[-1.2,4.7],[-0.55,4.65],[0.15,4.75],[0.85,4.7],[1.5,4.65],
[-5.5,4.1],[-4.8,4.0],[-4.1,4.15],[-3.4,4.05],[-2.7,4.1],[-2.0,3.95],[-1.3,4.15],[-0.6,4.1],[0.1,4.0],[0.8,4.15],[1.5,4.05],[2.2,4.1],[2.9,4.0],
[-7.5,3.5],[-6.8,3.4],[-6.1,3.55],[-5.4,3.45],[-4.7,3.5],[-4.0,3.4],[-3.3,3.55],[-2.6,3.5],[-1.9,3.4],[-1.2,3.55],[-0.5,3.45],[0.2,3.5],[0.9,3.4],[1.6,3.55],[2.3,3.45],[3.0,3.5],[3.7,3.4],[4.4,3.55],
[-8.3,2.9],[-7.6,2.85],[-6.9,2.95],[-6.2,2.9],[-5.5,2.8],[-4.8,2.95],[-4.1,2.85],[-3.4,2.9],[-2.7,2.8],[-2.0,2.95],[-1.3,2.9],[-0.6,2.85],[0.1,2.95],[0.8,2.8],[1.5,2.9],[2.2,2.85],[2.9,2.95],[3.6,2.8],[4.3,2.9],[5.0,2.85],[5.6,2.95],
[-8.0,2.3],[-7.3,2.25],[-6.6,2.35],[-5.9,2.3],[-5.2,2.2],[-4.5,2.35],[-3.8,2.3],[-3.1,2.25],[-2.4,2.35],[-1.7,2.2],[-1.0,2.3],[-0.3,2.35],[0.4,2.25],[1.1,2.3],[1.8,2.2],[2.5,2.35],[3.2,2.3],[3.9,2.25],[4.6,2.35],[5.3,2.2],[6.0,2.3],[6.7,2.35],[7.4,2.25],
[-8.2,1.7],[-7.5,1.75],[-6.8,1.65],[-6.1,1.7],[-5.4,1.8],[-4.7,1.65],[-4.0,1.7],[-3.3,1.75],[-2.6,1.6],[-1.9,1.7],[-1.2,1.8],[-0.5,1.65],[0.2,1.7],[0.9,1.75],[1.6,1.6],[2.3,1.7],[3.0,1.8],[3.7,1.65],[4.4,1.7],[5.1,1.75],[5.8,1.6],[6.5,1.7],[7.2,1.8],[7.9,1.65],[8.6,1.7],
[-8.3,1.1],[-7.6,1.05],[-6.9,1.15],[-6.2,1.1],[-5.5,1.0],[-4.8,1.15],[-4.1,1.1],[-3.4,1.05],[-2.7,1.15],[-2.0,1.0],[-1.3,1.1],[-0.6,1.15],[0.1,1.05],[0.8,1.1],[1.5,1.0],[2.2,1.15],[2.9,1.1],[3.6,1.05],[4.3,1.15],[5.0,1.0],[5.7,1.1],[6.4,1.15],[7.1,1.05],[7.8,1.1],[8.5,1.0],[9.2,1.15],[9.7,1.1],
[-8.35,0.5],[-7.65,0.55],[-6.95,0.45],[-6.25,0.5],[-5.55,0.6],[-4.85,0.45],[-4.15,0.5],[-3.45,0.55],[-2.75,0.4],[-2.05,0.5],[-1.35,0.6],[-0.65,0.45],[0.05,0.5],[0.75,0.55],[1.45,0.4],[2.15,0.5],[2.85,0.6],[3.55,0.45],[4.25,0.5],[4.95,0.55],[5.65,0.4],[6.35,0.5],[7.05,0.6],[7.75,0.45],[8.45,0.5],[9.15,0.55],[9.7,0.4],
[-7.8,-0.1],[-7.1,-0.05],[-6.4,-0.15],[-5.7,-0.1],[-5.0,0.0],[-4.3,-0.15],[-3.6,-0.1],[-2.9,-0.05],[-2.2,-0.2],[-1.5,-0.1],[-0.8,0.0],[-0.1,-0.15],[0.6,-0.1],[1.3,-0.05],[2.0,-0.2],[2.7,-0.1],[3.4,0.0],[4.1,-0.15],[4.8,-0.1],[5.5,-0.05],[6.2,-0.2],[6.9,-0.1],[7.6,0.0],[8.3,-0.15],[9.0,-0.1],[9.6,-0.05],
[-7.0,-0.7],[-6.3,-0.65],[-5.6,-0.75],[-4.9,-0.7],[-4.2,-0.6],[-3.5,-0.75],[-2.8,-0.7],[-2.1,-0.65],[-1.4,-0.8],[-0.7,-0.7],[0.0,-0.6],[0.7,-0.75],[1.4,-0.7],[2.1,-0.65],[2.8,-0.8],[3.5,-0.7],[4.2,-0.6],[4.9,-0.75],[5.6,-0.7],[6.3,-0.65],[7.0,-0.8],[7.7,-0.7],[8.4,-0.6],[8.8,-0.75],
[-6.6,-1.3],[-5.9,-1.25],[-5.2,-1.35],[-4.5,-1.3],[-3.8,-1.2],[-3.1,-1.35],[-2.4,-1.3],[-1.7,-1.25],[-1.0,-1.4],[-0.3,-1.3],[0.4,-1.2],[1.1,-1.35],[1.8,-1.3],[2.5,-1.25],[3.2,-1.4],[3.9,-1.3],[4.6,-1.2],[5.3,-1.35],[6.0,-1.3],[6.7,-1.25],[7.2,-1.4],
[-6.5,-1.9],[-5.8,-1.85],[-5.1,-1.95],[-4.4,-1.9],[-3.7,-1.8],[-3.0,-1.95],[-2.3,-1.9],[-1.6,-1.85],[-0.9,-2.0],[-0.2,-1.9],[0.5,-1.8],[1.2,-1.95],[1.9,-1.9],[2.6,-1.85],[3.3,-2.0],[4.0,-1.9],[4.7,-1.8],[5.4,-1.95],[6.0,-1.9],
[-5.6,-2.5],[-4.9,-2.45],[-4.2,-2.55],[-3.5,-2.5],[-2.8,-2.4],[-2.1,-2.55],[-1.4,-2.5],[-0.7,-2.45],[0.0,-2.6],[0.7,-2.5],[1.4,-2.4],[2.1,-2.55],[2.8,-2.5],[3.5,-2.45],[4.2,-2.6],[4.9,-2.5],[5.6,-2.4],
[-4.3,-3.1],[-3.6,-3.05],[-2.9,-3.15],[-2.2,-3.1],[-1.5,-3.0],[-0.8,-3.15],[-0.1,-3.1],[0.6,-3.05],[1.3,-3.2],[2.0,-3.1],[2.7,-3.0],[3.4,-3.15],[4.1,-3.1],[4.8,-3.05],
[-2.8,-3.7],[-2.1,-3.65],[-1.4,-3.75],[-0.7,-3.7],[0.0,-3.6],[0.7,-3.75],[1.4,-3.7],[2.1,-3.65],[2.8,-3.8],[3.5,-3.7],[4.2,-3.65]];

// ---- panel 4: price-to-GDP per capita ratio ----
const prcFit95 = [[-0.5, 4.6], [0.5, 1.65]];
const prcFit50 = [[-0.5, 2.35], [0.5, -1.2]];
const prcFit5 = [[-0.5, 1.25], [0.5, -5.4]];
const prcSparse = [[-0.497,6.36],[-0.484,6.08],[-0.481,4.13],[-0.449,-0.06],[-0.393,-3.01],[-0.333,-4.37],[-0.301,-4.0],[-0.318,-2.7],[-0.274,-2.83],[-0.222,-3.12],[-0.182,-4.37],[-0.261,5.8],[-0.333,5.11],[-0.381,4.7],[-0.397,2.51],[-0.39,2.01],[-0.099,7.9],[-0.086,7.62],[-0.047,6.88],[-0.11,6.64],[-0.114,6.08],[-0.101,6.08],[-0.056,6.08],[0.005,5.99],[-0.146,6.23],[-0.158,5.8],[-0.171,5.58],[-0.189,5.3],[-0.18,5.3],[-0.026,5.67],[-0.043,5.24],[0.143,8.03],[0.16,7.62],[0.097,6.75],[0.119,6.75],[0.06,6.36],[0.08,5.8],[0.093,5.95],[0.128,6.08],[0.137,6.08],[0.112,5.11],[0.088,4.96],[0.183,4.87],[0.174,4.59],[0.222,4.28],[0.327,2.73],[0.339,1.9],[0.418,1.9],[0.486,1.58],[0.451,0.93],[0.471,0.78],[0.435,0.22],[0.366,0.09],[0.402,-0.56],[0.466,-1.02],[0.495,-1.02],[0.442,-1.3],[0.459,-1.86],[0.426,-1.9],[0.394,-1.15],[0.407,-2.14],[0.39,-2.42],[0.372,-2.19],[0.462,-3.12],[0.426,-3.12],[0.406,-3.44],[0.387,-4.18],[0.379,-3.87],[0.363,-4.15],[0.356,-3.87],[0.342,-3.94],[0.33,-4.55],[0.322,-4.24],[0.3,-5.2],[0.3,-5.67],[0.305,-4.83],[0.257,-4.98],[0.239,-5.67],[0.212,-6.47],[0.22,-6.78],[0.212,-7.43],[0.268,-7.62],[0.277,-7.21],[0.287,-6.88],[0.181,-4.83],[0.188,-5.17],[0.197,-5.24],[0.205,-4.98],[0.167,-5.11],[0.16,-4.24],[0.13,-4.74],[0.133,-5.3],[0.143,-5.48],[0.14,-6.23],[0.078,-6.04],[0.085,-6.2],[0.078,-6.4],[0.104,-6.32],[0.109,-6.88],[0.029,-5.91],[0.099,-4.8],[0.088,-4.15],[0.054,-4.28],[0.064,-4.55],[-0.023,-5.24],[-0.011,-4.24],[-0.08,-4.24],[-0.1,-3.68],[-0.066,-3.53]];
const prcDense = [
[-0.2,4.9],[-0.172,5.1],[-0.05,5.0],[-0.022,4.8],[0.006,5.1],[0.034,4.9],[0.06,5.0],[0.11,5.1],
[-0.38,4.5],[-0.35,4.3],[-0.32,4.6],[-0.29,4.2],[-0.25,4.4],[-0.222,4.6],[-0.194,4.3],[-0.166,4.5],[-0.138,4.4],[-0.11,4.2],[-0.082,4.5],[-0.054,4.3],[-0.026,4.6],[0.002,4.4],[0.03,4.2],[0.058,4.5],[0.086,4.3],[0.114,4.4],[0.142,4.2],[0.17,4.5],[0.2,4.3],[0.222,4.5],
[-0.381,3.8],[-0.353,3.7],[-0.325,3.9],[-0.297,3.8],[-0.269,3.65],[-0.241,3.9],[-0.213,3.8],[-0.185,3.7],[-0.157,3.95],[-0.129,3.8],[-0.101,3.7],[-0.073,3.9],[-0.045,3.8],[-0.017,3.65],[0.011,3.9],[0.039,3.8],[0.067,3.7],[0.095,3.95],[0.123,3.8],[0.151,3.7],[0.179,3.9],[0.207,3.8],[0.229,3.6],
[-0.374,3.2],[-0.346,3.1],[-0.318,3.3],[-0.29,3.2],[-0.262,3.05],[-0.234,3.3],[-0.206,3.2],[-0.178,3.1],[-0.15,3.35],[-0.122,3.2],[-0.094,3.1],[-0.066,3.3],[-0.038,3.2],[-0.01,3.05],[0.018,3.3],[0.046,3.2],[0.074,3.1],[0.102,3.35],[0.13,3.2],[0.158,3.1],[0.186,3.3],[0.214,3.2],[0.242,3.1],[0.263,3.3],
[-0.374,2.6],[-0.346,2.5],[-0.317,2.7],[-0.289,2.6],[-0.26,2.45],[-0.232,2.7],[-0.203,2.6],[-0.175,2.5],[-0.146,2.75],[-0.118,2.6],[-0.089,2.5],[-0.061,2.7],[-0.032,2.6],[-0.004,2.45],[0.025,2.7],[0.053,2.6],[0.082,2.5],[0.11,2.75],[0.139,2.6],[0.167,2.5],[0.196,2.7],[0.224,2.6],[0.253,2.45],[0.281,2.7],[0.31,2.6],
[-0.368,2.0],[-0.34,1.9],[-0.311,2.1],[-0.283,2.0],[-0.254,1.85],[-0.226,2.1],[-0.197,2.0],[-0.169,1.9],[-0.14,2.15],[-0.112,2.0],[-0.083,1.9],[-0.055,2.1],[-0.026,2.0],[0.002,1.85],[0.031,2.1],[0.059,2.0],[0.088,1.9],[0.116,2.15],[0.145,2.0],[0.173,1.9],[0.202,2.1],[0.23,2.0],[0.259,1.85],[0.287,2.1],[0.31,2.0],
[-0.374,1.4],[-0.346,1.5],[-0.317,1.3],[-0.289,1.45],[-0.26,1.5],[-0.232,1.3],[-0.203,1.4],[-0.175,1.55],[-0.146,1.3],[-0.118,1.4],[-0.089,1.5],[-0.061,1.25],[-0.032,1.4],[-0.004,1.5],[0.025,1.3],[0.053,1.45],[0.082,1.5],[0.11,1.3],[0.139,1.4],[0.167,1.55],[0.196,1.3],[0.224,1.4],[0.253,1.5],[0.281,1.3],[0.305,1.45],
[-0.368,0.8],[-0.34,0.7],[-0.311,0.9],[-0.283,0.8],[-0.254,0.65],[-0.226,0.9],[-0.197,0.8],[-0.169,0.7],[-0.14,0.95],[-0.112,0.8],[-0.083,0.7],[-0.055,0.9],[-0.026,0.8],[0.002,0.65],[0.031,0.9],[0.059,0.8],[0.088,0.7],[0.116,0.95],[0.145,0.8],[0.173,0.7],[0.202,0.9],[0.23,0.8],[0.259,0.65],[0.287,0.9],[0.318,0.8],
[-0.347,0.2],[-0.318,0.3],[-0.29,0.1],[-0.261,0.25],[-0.233,0.3],[-0.204,0.1],[-0.176,0.2],[-0.147,0.35],[-0.119,0.1],[-0.09,0.2],[-0.062,0.3],[-0.033,0.05],[-0.005,0.2],[0.024,0.3],[0.052,0.1],[0.081,0.25],[0.109,0.3],[0.138,0.1],[0.166,0.2],[0.195,0.35],[0.223,0.1],[0.252,0.2],[0.28,0.3],[0.318,0.1],
[-0.326,-0.4],[-0.298,-0.3],[-0.269,-0.5],[-0.241,-0.35],[-0.212,-0.3],[-0.184,-0.5],[-0.155,-0.4],[-0.127,-0.25],[-0.098,-0.5],[-0.07,-0.4],[-0.041,-0.3],[-0.013,-0.55],[0.016,-0.4],[0.044,-0.3],[0.073,-0.5],[0.101,-0.4],[0.13,-0.25],[0.158,-0.5],[0.187,-0.4],[0.215,-0.3],[0.244,-0.5],[0.272,-0.4],[0.301,-0.3],[0.325,-0.5],
[-0.265,-1.0],[-0.237,-0.9],[-0.208,-1.1],[-0.18,-1.0],[-0.151,-0.85],[-0.123,-1.1],[-0.094,-1.0],[-0.066,-0.9],[-0.037,-1.15],[-0.009,-1.0],[0.02,-0.9],[0.048,-1.1],[0.077,-1.0],[0.105,-0.85],[0.134,-1.1],[0.162,-1.0],[0.191,-0.9],[0.219,-1.15],[0.248,-1.0],[0.276,-0.9],[0.305,-1.1],[0.325,-0.95],
[-0.258,-1.6],[-0.23,-1.5],[-0.201,-1.7],[-0.173,-1.6],[-0.144,-1.45],[-0.116,-1.7],[-0.087,-1.6],[-0.059,-1.5],[-0.03,-1.75],[-0.002,-1.6],[0.027,-1.5],[0.055,-1.7],[0.084,-1.6],[0.112,-1.45],[0.141,-1.7],[0.169,-1.6],[0.198,-1.5],[0.226,-1.75],[0.255,-1.6],[0.283,-1.5],[0.31,-1.7],
[-0.189,-2.2],[-0.16,-2.1],[-0.132,-2.3],[-0.103,-2.2],[-0.075,-2.05],[-0.046,-2.3],[-0.018,-2.2],[0.011,-2.1],[0.039,-2.35],[0.068,-2.2],[0.096,-2.1],[0.125,-2.3],[0.153,-2.2],[0.182,-2.05],[0.21,-2.3],[0.239,-2.2],[0.267,-2.1],[0.296,-2.35],[0.324,-2.2],[0.339,-2.0],
[-0.176,-2.8],[-0.147,-2.7],[-0.119,-2.9],[-0.09,-2.8],[-0.062,-2.65],[-0.033,-2.9],[-0.005,-2.8],[0.024,-2.7],[0.052,-2.95],[0.081,-2.8],[0.109,-2.7],[0.138,-2.9],[0.166,-2.8],[0.195,-2.65],[0.223,-2.9],[0.252,-2.8],[0.28,-2.7],[0.309,-2.95],[0.339,-2.8],
[-0.086,-3.4],[-0.057,-3.3],[-0.029,-3.5],[0.0,-3.4],[0.028,-3.25],[0.057,-3.5],[0.085,-3.4],[0.114,-3.3],[0.142,-3.55],[0.171,-3.4],[0.199,-3.3],[0.228,-3.5],[0.256,-3.4],[0.285,-3.3],[0.313,-3.5],[0.332,-3.35],
[0.037,-4.0],[0.075,-3.9],[0.113,-4.1],[0.151,-4.0],[0.189,-3.9],[0.222,-4.1],
[0.126,-4.6],[0.166,-4.5],[0.208,-4.7]];
const prcFill = [
[-0.19,4.7],[-0.16,4.75],[-0.13,4.65],[-0.04,4.7],[-0.01,4.75],[0.02,4.65],[0.05,4.7],[0.08,4.75],
[-0.36,4.1],[-0.332,4.0],[-0.303,4.15],[-0.275,4.05],[-0.246,4.1],[-0.218,3.95],[-0.189,4.15],[-0.161,4.1],[-0.132,4.0],[-0.104,4.15],[-0.075,4.05],[-0.047,4.1],[-0.018,4.0],[0.01,4.15],[0.039,4.05],[0.067,4.1],[0.096,4.0],[0.124,4.15],[0.153,4.05],[0.181,4.1],[0.21,4.0],
[-0.367,3.5],[-0.339,3.4],[-0.31,3.55],[-0.282,3.45],[-0.253,3.5],[-0.225,3.4],[-0.196,3.55],[-0.168,3.5],[-0.139,3.4],[-0.111,3.55],[-0.082,3.45],[-0.054,3.5],[-0.025,3.4],[0.003,3.55],[0.032,3.45],[0.06,3.5],[0.089,3.4],[0.117,3.55],[0.146,3.45],[0.174,3.5],[0.203,3.4],[0.231,3.55],
[-0.36,2.9],[-0.332,2.85],[-0.303,2.95],[-0.275,2.9],[-0.246,2.8],[-0.218,2.95],[-0.189,2.85],[-0.161,2.9],[-0.132,2.8],[-0.104,2.95],[-0.075,2.9],[-0.047,2.85],[-0.018,2.95],[0.01,2.8],[0.039,2.9],[0.067,2.85],[0.096,2.95],[0.124,2.8],[0.153,2.9],[0.181,2.85],[0.21,2.95],[0.238,2.8],[0.267,2.9],
[-0.353,2.3],[-0.325,2.25],[-0.296,2.35],[-0.268,2.3],[-0.239,2.2],[-0.211,2.35],[-0.182,2.3],[-0.154,2.25],[-0.125,2.35],[-0.097,2.2],[-0.068,2.3],[-0.04,2.35],[-0.011,2.25],[0.017,2.3],[0.046,2.2],[0.074,2.35],[0.103,2.3],[0.131,2.25],[0.16,2.35],[0.188,2.2],[0.217,2.3],[0.245,2.35],[0.274,2.25],[0.3,2.3],
[-0.36,1.7],[-0.332,1.75],[-0.303,1.65],[-0.275,1.7],[-0.246,1.8],[-0.218,1.65],[-0.189,1.7],[-0.161,1.75],[-0.132,1.6],[-0.104,1.7],[-0.075,1.8],[-0.047,1.65],[-0.018,1.7],[0.01,1.75],[0.039,1.6],[0.067,1.7],[0.096,1.8],[0.124,1.65],[0.153,1.7],[0.181,1.75],[0.21,1.6],[0.238,1.7],[0.267,1.8],[0.295,1.65],
[-0.353,1.1],[-0.325,1.05],[-0.296,1.15],[-0.268,1.1],[-0.239,1.0],[-0.211,1.15],[-0.182,1.1],[-0.154,1.05],[-0.125,1.15],[-0.097,1.0],[-0.068,1.1],[-0.04,1.15],[-0.011,1.05],[0.017,1.1],[0.046,1.0],[0.074,1.15],[0.103,1.1],[0.131,1.05],[0.16,1.15],[0.188,1.0],[0.217,1.1],[0.245,1.15],[0.274,1.05],[0.302,1.1],
[-0.34,0.5],[-0.311,0.55],[-0.283,0.45],[-0.254,0.5],[-0.226,0.6],[-0.197,0.45],[-0.169,0.5],[-0.14,0.55],[-0.112,0.4],[-0.083,0.5],[-0.055,0.6],[-0.026,0.45],[0.002,0.5],[0.031,0.55],[0.059,0.4],[0.088,0.5],[0.116,0.6],[0.145,0.45],[0.173,0.5],[0.202,0.55],[0.23,0.4],[0.259,0.5],[0.287,0.6],[0.315,0.45],
[-0.312,-0.1],[-0.283,-0.05],[-0.255,-0.15],[-0.226,-0.1],[-0.198,0.0],[-0.169,-0.15],[-0.141,-0.1],[-0.112,-0.05],[-0.084,-0.2],[-0.055,-0.1],[-0.027,0.0],[0.002,-0.15],[0.03,-0.1],[0.059,-0.05],[0.087,-0.2],[0.116,-0.1],[0.144,0.0],[0.173,-0.15],[0.201,-0.1],[0.23,-0.05],[0.258,-0.2],[0.287,-0.1],[0.315,0.0],
[-0.28,-0.7],[-0.251,-0.65],[-0.223,-0.75],[-0.194,-0.7],[-0.166,-0.6],[-0.137,-0.75],[-0.109,-0.7],[-0.08,-0.65],[-0.052,-0.8],[-0.023,-0.7],[0.005,-0.6],[0.034,-0.75],[0.062,-0.7],[0.091,-0.65],[0.119,-0.8],[0.148,-0.7],[0.176,-0.6],[0.205,-0.75],[0.233,-0.7],[0.262,-0.65],[0.29,-0.8],[0.318,-0.7],
[-0.25,-1.3],[-0.222,-1.25],[-0.193,-1.35],[-0.165,-1.3],[-0.136,-1.2],[-0.108,-1.35],[-0.079,-1.3],[-0.051,-1.25],[-0.022,-1.4],[0.006,-1.3],[0.035,-1.2],[0.063,-1.35],[0.092,-1.3],[0.12,-1.25],[0.149,-1.4],[0.177,-1.3],[0.206,-1.2],[0.234,-1.35],[0.263,-1.3],[0.291,-1.25],[0.318,-1.4],
[-0.215,-1.9],[-0.186,-1.85],[-0.158,-1.95],[-0.129,-1.9],[-0.101,-1.8],[-0.072,-1.95],[-0.044,-1.9],[-0.015,-1.85],[0.013,-2.0],[0.042,-1.9],[0.07,-1.8],[0.099,-1.95],[0.127,-1.9],[0.156,-1.85],[0.184,-2.0],[0.213,-1.9],[0.241,-1.8],[0.27,-1.95],[0.298,-1.9],[0.327,-1.85],
[-0.175,-2.5],[-0.146,-2.45],[-0.118,-2.55],[-0.089,-2.5],[-0.061,-2.4],[-0.032,-2.55],[-0.004,-2.5],[0.025,-2.45],[0.053,-2.6],[0.082,-2.5],[0.11,-2.4],[0.139,-2.55],[0.167,-2.5],[0.196,-2.45],[0.224,-2.6],[0.253,-2.5],[0.281,-2.4],[0.31,-2.55],[0.336,-2.5],
[-0.13,-3.1],[-0.101,-3.05],[-0.073,-3.15],[-0.044,-3.1],[-0.016,-3.0],[0.013,-3.15],[0.041,-3.1],[0.07,-3.05],[0.098,-3.2],[0.127,-3.1],[0.155,-3.0],[0.184,-3.15],[0.212,-3.1],[0.241,-3.05],[0.269,-3.2],[0.298,-3.1],[0.33,-3.05],
[-0.02,-3.7],[0.009,-3.65],[0.037,-3.75],[0.066,-3.7],[0.094,-3.6],[0.123,-3.75],[0.151,-3.7],[0.18,-3.65],[0.208,-3.8],[0.237,-3.7],[0.265,-3.6],[0.295,-3.75]];

// colours
const GREEN = '#4f7a28', YELLOW = '#fbb740', RED = '#b41f32';
const DOT = '#8cb5e8', DOT_EDGE = '#1e79d2', INK = '#231f20';

Chart.defaults.font.family = '"Liberation Sans", Arial, sans-serif';
Chart.defaults.font.size = 18;
Chart.defaults.color = INK;

const minus = s => String(s).replace('-', '\u2212');

// x axis line runs a little past both ends of the plot
const baseline = {
  id: 'baseline',
  afterDraw(chart) {
    const { ctx, chartArea } = chart;
    ctx.save();
    ctx.strokeStyle = INK;
    ctx.lineWidth = 1.5;
    ctx.beginPath();
    ctx.moveTo(chartArea.left - 7, chartArea.bottom + 0.5);
    ctx.lineTo(chartArea.right + 8, chartArea.bottom + 0.5);
    ctx.stroke();
    ctx.restore();
  }
};

const fitLine = (pts, color) => ({
  data: pts.map(p => ({ x: p[0], y: p[1] })),
  showLine: true, borderColor: color, borderWidth: 2.6,
  pointRadius: 0, fill: false, clip: false
});

function makePanel(id, opt) {
  const ctx = document.getElementById(id).getContext('2d');
  const points = opt.sparse.concat(opt.dense, opt.fill);
  const outer = opt.side, inner = opt.side === 'left' ? 'right' : 'left';
  new Chart(ctx, {
    type: 'scatter',
    data: {
      datasets: [
        fitLine(opt.fits[0], GREEN),
        fitLine(opt.fits[1], YELLOW),
        fitLine(opt.fits[2], RED),
        {
          data: points.map(p => ({ x: p[0], y: p[1] })),
          backgroundColor: DOT, borderColor: DOT_EDGE, borderWidth: 1.1,
          pointRadius: 5.5, clip: false
        }
      ]
    },
    options: {
      responsive: false,
      animation: false,
      events: [],
      layout: { padding: opt.pad },
      plugins: { legend: { display: false }, tooltip: { enabled: false } },
      scales: {
        x: {
          type: 'linear', min: opt.xMin, max: opt.xMax,
          border: { display: false },
          grid: { drawOnChartArea: false, drawTicks: true, tickLength: -5, color: INK, lineWidth: 1.3 },
          ticks: { stepSize: opt.xStep, padding: 19, callback: v => minus(opt.xFmt(v)) },
          // end labels must not push the plot inwards
          afterFit: s => { s.height = 70; s.paddingLeft = 0; s.paddingRight = 0; }
        },
        y: {
          type: 'linear', position: outer, min: -8, max: 8,
          border: { display: false },
          grid: { drawOnChartArea: false, drawTicks: true, tickLength: 6, color: INK, lineWidth: 1.3 },
          ticks: { stepSize: 2, padding: 4, callback: v => minus(v) },
          afterBuildTicks: s => { s.ticks = yTicks.map(v => ({ value: v })); },
          afterFit: s => { s.width = opt.outW; }
        },
        y2: {
          type: 'linear', position: inner, min: -8, max: 8,
          border: { display: false },
          grid: { drawOnChartArea: false, drawTicks: true, tickLength: 6, color: INK, lineWidth: 1.3 },
          ticks: { display: false, stepSize: 2 },
          afterFit: s => { s.width = opt.inW; }
        }
      }
    },
    plugins: [baseline]
  });
}

makePanel('p1', {
  sparse: fciSparse, dense: fciDense, fill: fciFill, fits: [fciFit95, fciFit50, fciFit5],
  side: 'left', outW: 66, inW: 29, pad: { left: 0, right: 0, top: 21, bottom: 23 },
  xMin: -2, xMax: 4, xStep: 1, xFmt: v => v
});
makePanel('p2', {
  sparse: gdpSparse, dense: gdpDense, fill: gdpFill, fits: [gdpFit95, gdpFit50, gdpFit5],
  side: 'right', outW: 74, inW: 23, pad: { left: 0, right: 0, top: 21, bottom: 23 },
  xMin: -5, xMax: 5, xStep: 2, xFmt: v => v
});
makePanel('p3', {
  sparse: crdSparse, dense: crdDense, fill: crdFill, fits: [crdFit95, crdFit50, crdFit5],
  side: 'left', outW: 66, inW: 29, pad: { left: 0, right: 0, top: 21, bottom: 23 },
  xMin: -15, xMax: 10, xStep: 5, xFmt: v => v
});
makePanel('p4', {
  sparse: prcSparse, dense: prcDense, fill: prcFill, fits: [prcFit95, prcFit50, prcFit5],
  side: 'right', outW: 74, inW: 23, pad: { left: 0, right: 0, top: 21, bottom: 23 },
  xMin: -0.5, xMax: 0.5, xStep: 0.2, xFmt: v => v.toFixed(1)
});
</script>
</body>
</html>
